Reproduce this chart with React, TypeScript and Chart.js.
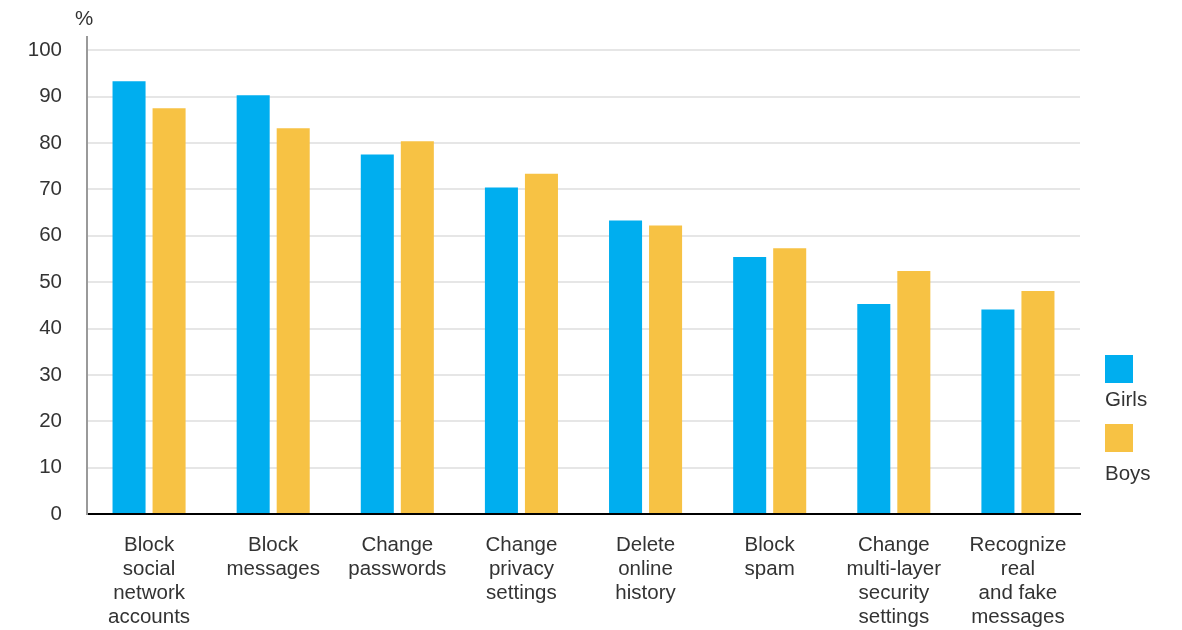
import React, { useEffect, useRef } from "react";
import { Chart, registerables } from "chart.js";

Chart.register(...registerables);

const categories: string[][] = [
  ["Block", "social", "network", "accounts"],
  ["Block", "messages"],
  ["Change", "passwords"],
  ["Change", "privacy", "settings"],
  ["Delete", "online", "history"],
  ["Block", "spam"],
  ["Change", "multi-layer", "security", "settings"],
  ["Recognize", "real", "and fake", "messages"],
];
const girls = [93.3, 90.3, 77.5, 70.4, 63.3, 55.4, 45.3, 44.1];
const boys = [87.5, 83.2, 80.4, 73.4, 62.2, 57.3, 52.4, 48.1];
const seriesNames = ["Girls", "Boys"];
const seriesColors = ["#00AEEF", "#F7C244"];
const yTicks = [0, 10, 20, 30, 40, 50, 60, 70, 80, 90, 100];

const FONT = "'Liberation Sans', Arial, sans-serif";
const TEXT = "#333333";
const SIZE = 20.5;

const extras = {
  id: "extras",
  afterDraw(chart: any) {
    const ctx = chart.ctx;
    const area = chart.chartArea;
    ctx.save();
    ctx.fillStyle = TEXT;
    ctx.font = `${SIZE}px ${FONT}`;
    ctx.textAlign = "center";
    ctx.textBaseline = "middle";
    ctx.fillText("%", area.left - 3, 19);
    // legend
    const x0 = area.right + 25;
    const boxTops = [355, 424];
    const textYs = [400, 474];
    chart.data.datasets.forEach((ds: any, i: number) => {
      ctx.fillStyle = ds.backgroundColor;
      ctx.fillRect(x0, boxTops[i], 28, 28);
      ctx.fillStyle = TEXT;
      ctx.textAlign = "left";
      ctx.fillText(ds.label, x0, textYs[i]);
    });
    ctx.restore();
  },
};

export default function App() {
  const ref = useRef<HTMLCanvasElement | null>(null);
  useEffect(() => {
    if (!ref.current) return;
    const chart = new Chart(ref.current, {
      type: "bar",
      data: {
        labels: categories,
        datasets: [
          { label: seriesNames[0], data: girls, backgroundColor: seriesColors[0] },
          { label: seriesNames[1], data: boys, backgroundColor: seriesColors[1] },
        ],
      },
      options: {
        animation: false,
        responsive: false,
        maintainAspectRatio: false,
        layout: { padding: { top: 33, right: 102, left: 0, bottom: 0 } },
        datasets: { bar: { categoryPercentage: 0.645, barPercentage: 0.825 } },
        plugins: { legend: { display: false }, tooltip: { enabled: false } },
        scales: {
          x: {
            grid: { display: false },
            border: { display: true, color: "#000000", width: 2 },
            ticks: {
              color: TEXT,
              font: { family: FONT, size: SIZE, lineHeight: 1.17 },
              padding: 11,
              maxRotation: 0,
              autoSkip: false,
            },
            afterFit: (s: any) => {
              s.height = 116;
            },
          },
          y: {
            min: 0,
            max: 102.8,
            afterBuildTicks: (s: any) => {
              s.ticks = yTicks.map((v) => ({ value: v }));
            },
            grid: {
              drawTicks: false,
              color: (c: any) => (c.tick && c.tick.value === 0 ? "#000000" : "#E6E6E6"),
              lineWidth: 2,
            },
            border: { display: true, color: "#9A9A9A", width: 2 },
            ticks: {
              color: TEXT,
              font: { family: FONT, size: SIZE },
              padding: 25,
            },
            afterFit: (s: any) => {
              s.width = 87;
            },
          },
        },
      },
      plugins: [extras],
    });
    return () => chart.destroy();
  }, []);
  return (
    <div style={{ position: "absolute", left: 0, top: 0, width: 1182, height: 630, background: "#fff" }}>
      <canvas ref={ref} width={1182} height={630} style={{ width: 1182, height: 630 }} />
    </div>
  );
}
